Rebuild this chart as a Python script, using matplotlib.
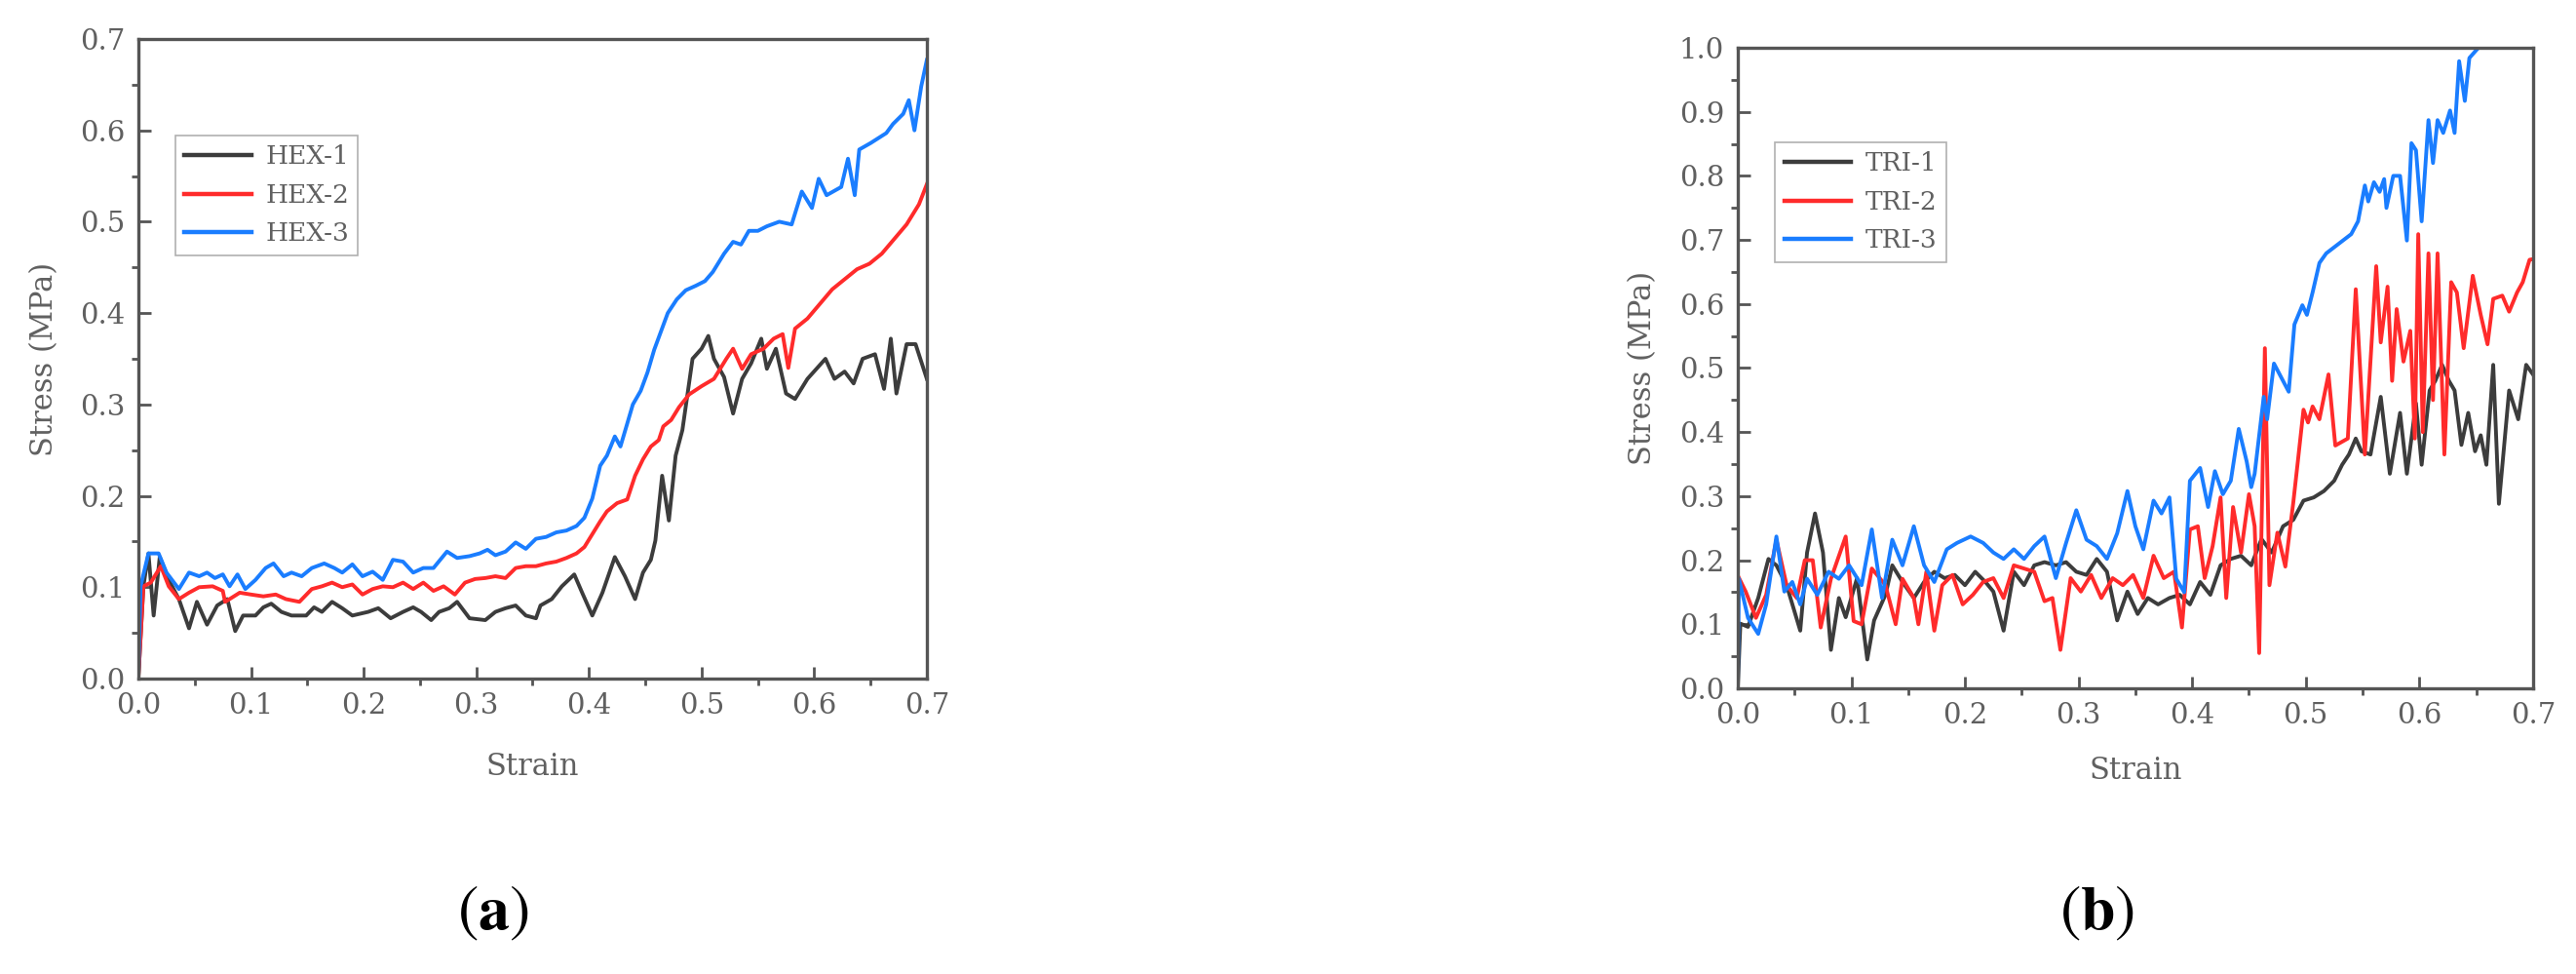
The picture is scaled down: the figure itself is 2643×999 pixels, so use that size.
import matplotlib
matplotlib.use("Agg")
import matplotlib.pyplot as plt
from matplotlib.ticker import MultipleLocator, FormatStrFormatter

plt.rcParams['font.family'] = ['DejaVu Serif']
plt.rcParams['mathtext.fontset'] = 'stix'

# ---- (a) hexagonal samples ----
hex1_strain = [0.0, 0.0045, 0.009, 0.0136, 0.019, 0.027, 0.036, 0.045, 0.052, 0.061, 0.070, 0.079,
               0.086, 0.093, 0.104, 0.111, 0.118, 0.127, 0.136, 0.149, 0.156, 0.163, 0.172, 0.181,
               0.190, 0.204, 0.213, 0.224, 0.235, 0.244, 0.251, 0.260, 0.267, 0.276, 0.283, 0.294,
               0.308, 0.317, 0.326, 0.335, 0.344, 0.353, 0.357, 0.367, 0.376, 0.387, 0.394, 0.403,
               0.412, 0.423, 0.432, 0.441, 0.448, 0.455, 0.459, 0.465, 0.471, 0.477, 0.483, 0.492,
               0.500, 0.506, 0.511, 0.520, 0.528, 0.536, 0.544, 0.553, 0.558, 0.566, 0.575, 0.583,
               0.594, 0.602, 0.610, 0.618, 0.627, 0.635, 0.643, 0.654, 0.662, 0.668, 0.673, 0.682,
               0.690, 0.700]
hex1_stress = [0.0, 0.101, 0.137, 0.069, 0.133, 0.108, 0.087, 0.055, 0.084, 0.059, 0.080, 0.087,
               0.052, 0.069, 0.069, 0.078, 0.082, 0.073, 0.069, 0.069, 0.078, 0.073, 0.084, 0.077,
               0.069, 0.073, 0.077, 0.066, 0.073, 0.078, 0.073, 0.064, 0.073, 0.077, 0.084, 0.066,
               0.064, 0.073, 0.077, 0.080, 0.069, 0.066, 0.080, 0.087, 0.101, 0.114, 0.094, 0.069,
               0.094, 0.133, 0.112, 0.087, 0.116, 0.130, 0.151, 0.222, 0.173, 0.244, 0.272, 0.350,
               0.361, 0.375, 0.350, 0.330, 0.290, 0.328, 0.345, 0.372, 0.339, 0.361, 0.312, 0.306,
               0.328, 0.339, 0.350, 0.328, 0.336, 0.323, 0.350, 0.355, 0.317, 0.372, 0.312, 0.366,
               0.366, 0.328]

hex2_strain = [0.0, 0.0045, 0.011, 0.020, 0.027, 0.036, 0.045, 0.054, 0.066, 0.075, 0.077, 0.081,
               0.090, 0.100, 0.111, 0.122, 0.131, 0.143, 0.154, 0.163, 0.172, 0.181, 0.190, 0.199,
               0.208, 0.217, 0.226, 0.235, 0.244, 0.253, 0.262, 0.271, 0.281, 0.290, 0.299, 0.308,
               0.317, 0.326, 0.335, 0.344, 0.353, 0.362, 0.371, 0.380, 0.389, 0.396, 0.403, 0.410,
               0.416, 0.425, 0.434, 0.441, 0.448, 0.455, 0.462, 0.466, 0.473, 0.480, 0.489, 0.500,
               0.511, 0.522, 0.528, 0.536, 0.544, 0.555, 0.564, 0.572, 0.577, 0.583, 0.594, 0.605,
               0.616, 0.627, 0.638, 0.649, 0.660, 0.671, 0.682, 0.693, 0.700]
hex2_stress = [0.0, 0.101, 0.105, 0.123, 0.101, 0.087, 0.094, 0.100, 0.101, 0.096, 0.084, 0.087,
               0.094, 0.092, 0.090, 0.092, 0.087, 0.084, 0.098, 0.101, 0.105, 0.100, 0.103, 0.092,
               0.098, 0.101, 0.100, 0.105, 0.098, 0.105, 0.096, 0.101, 0.092, 0.105, 0.109, 0.110,
               0.112, 0.110, 0.121, 0.123, 0.123, 0.126, 0.128, 0.132, 0.137, 0.144, 0.158, 0.172,
               0.183, 0.192, 0.196, 0.222, 0.240, 0.254, 0.261, 0.276, 0.283, 0.297, 0.311, 0.320,
               0.328, 0.350, 0.361, 0.339, 0.355, 0.361, 0.372, 0.377, 0.340, 0.383, 0.394, 0.410,
               0.426, 0.437, 0.448, 0.454, 0.465, 0.481, 0.497, 0.519, 0.541]

hex3_strain = [0.0, 0.002, 0.009, 0.018, 0.025, 0.036, 0.045, 0.054, 0.061, 0.068, 0.075, 0.081,
               0.088, 0.095, 0.104, 0.113, 0.120, 0.129, 0.136, 0.145, 0.154, 0.165, 0.174, 0.181,
               0.190, 0.199, 0.208, 0.217, 0.226, 0.235, 0.244, 0.253, 0.262, 0.274, 0.283, 0.294,
               0.303, 0.310, 0.317, 0.326, 0.335, 0.344, 0.353, 0.362, 0.371, 0.380, 0.389, 0.396,
               0.403, 0.410, 0.416, 0.423, 0.428, 0.434, 0.439, 0.446, 0.452, 0.458, 0.464, 0.470,
               0.478, 0.486, 0.495, 0.503, 0.510, 0.515, 0.520, 0.528, 0.535, 0.542, 0.550, 0.558,
               0.569, 0.580, 0.589, 0.598, 0.604, 0.611, 0.624, 0.630, 0.636, 0.640, 0.650, 0.664,
               0.670, 0.679, 0.684, 0.689, 0.695, 0.700]
hex3_stress = [0.0, 0.101, 0.137, 0.137, 0.116, 0.098, 0.116, 0.112, 0.116, 0.110, 0.114, 0.101,
               0.114, 0.098, 0.108, 0.121, 0.126, 0.112, 0.116, 0.112, 0.121, 0.126, 0.121, 0.116,
               0.125, 0.112, 0.117, 0.108, 0.130, 0.128, 0.116, 0.121, 0.121, 0.139, 0.132, 0.134,
               0.137, 0.141, 0.135, 0.139, 0.149, 0.142, 0.153, 0.155, 0.160, 0.162, 0.167, 0.176,
               0.197, 0.233, 0.244, 0.265, 0.254, 0.279, 0.300, 0.315, 0.335, 0.360, 0.380, 0.400,
               0.415, 0.425, 0.430, 0.435, 0.445, 0.455, 0.465, 0.478, 0.475, 0.490, 0.490, 0.495,
               0.500, 0.497, 0.533, 0.515, 0.547, 0.529, 0.538, 0.569, 0.529, 0.579, 0.586, 0.597,
               0.607, 0.618, 0.633, 0.600, 0.648, 0.677]

# ---- (b) triangular samples ----
tri1_strain = [0.0, 0.0023, 0.009, 0.018, 0.027, 0.034, 0.043, 0.055, 0.061, 0.068, 0.075, 0.082,
               0.089, 0.095, 0.105, 0.114, 0.120, 0.130, 0.136, 0.145, 0.155, 0.164, 0.173, 0.182,
               0.191, 0.200, 0.209, 0.218, 0.225, 0.234, 0.243, 0.252, 0.261, 0.270, 0.280, 0.289,
               0.298, 0.307, 0.316, 0.325, 0.334, 0.343, 0.352, 0.361, 0.370, 0.380, 0.389, 0.398,
               0.407, 0.416, 0.425, 0.434, 0.443, 0.452, 0.461, 0.470, 0.480, 0.489, 0.498, 0.507,
               0.516, 0.525, 0.532, 0.538, 0.544, 0.549, 0.557, 0.566, 0.574, 0.583, 0.589, 0.597,
               0.602, 0.609, 0.614, 0.620, 0.626, 0.631, 0.637, 0.643, 0.649, 0.654, 0.659, 0.665,
               0.670, 0.679, 0.687, 0.694, 0.700]
tri1_stress = [0.0, 0.101, 0.096, 0.141, 0.202, 0.192, 0.161, 0.090, 0.212, 0.273, 0.212, 0.060,
               0.141, 0.111, 0.172, 0.045, 0.106, 0.146, 0.192, 0.166, 0.141, 0.166, 0.182, 0.172,
               0.177, 0.161, 0.182, 0.166, 0.151, 0.090, 0.182, 0.161, 0.192, 0.197, 0.192, 0.197,
               0.182, 0.177, 0.202, 0.182, 0.106, 0.151, 0.116, 0.141, 0.131, 0.141, 0.146, 0.131,
               0.166, 0.146, 0.192, 0.202, 0.207, 0.192, 0.233, 0.212, 0.253, 0.263, 0.293, 0.298,
               0.308, 0.324, 0.349, 0.365, 0.390, 0.370, 0.365, 0.455, 0.335, 0.430, 0.335, 0.445,
               0.349, 0.465, 0.480, 0.505, 0.480, 0.465, 0.380, 0.430, 0.370, 0.395, 0.349, 0.505,
               0.288, 0.465, 0.420, 0.505, 0.490]

tri2_strain = [0.0, 0.007, 0.016, 0.025, 0.034, 0.043, 0.052, 0.059, 0.066, 0.073, 0.082, 0.095,
               0.102, 0.109, 0.118, 0.130, 0.139, 0.145, 0.155, 0.159, 0.166, 0.173, 0.180, 0.189,
               0.198, 0.207, 0.216, 0.225, 0.234, 0.243, 0.252, 0.261, 0.270, 0.277, 0.284, 0.293,
               0.302, 0.311, 0.320, 0.330, 0.339, 0.348, 0.357, 0.366, 0.375, 0.384, 0.391, 0.398,
               0.405, 0.411, 0.418, 0.425, 0.430, 0.436, 0.443, 0.450, 0.455, 0.459, 0.464, 0.468,
               0.475, 0.482, 0.489, 0.493, 0.498, 0.502, 0.506, 0.512, 0.520, 0.526, 0.537, 0.544,
               0.552, 0.562, 0.566, 0.572, 0.576, 0.580, 0.586, 0.592, 0.596, 0.599, 0.603, 0.608,
               0.612, 0.616, 0.622, 0.628, 0.633, 0.639, 0.647, 0.654, 0.660, 0.665, 0.673, 0.679,
               0.686, 0.691, 0.697, 0.700]
tri2_stress = [0.176, 0.151, 0.110, 0.146, 0.232, 0.161, 0.141, 0.200, 0.200, 0.095, 0.171, 0.237,
               0.105, 0.100, 0.187, 0.161, 0.100, 0.171, 0.141, 0.100, 0.182, 0.090, 0.161, 0.177,
               0.131, 0.146, 0.166, 0.172, 0.141, 0.192, 0.187, 0.182, 0.136, 0.141, 0.060, 0.172,
               0.151, 0.177, 0.141, 0.172, 0.161, 0.177, 0.141, 0.207, 0.172, 0.182, 0.095, 0.248,
               0.253, 0.172, 0.222, 0.298, 0.141, 0.283, 0.212, 0.303, 0.253, 0.055, 0.531, 0.161,
               0.243, 0.190, 0.290, 0.354, 0.435, 0.415, 0.440, 0.420, 0.490, 0.379, 0.390, 0.623,
               0.365, 0.659, 0.540, 0.627, 0.480, 0.592, 0.510, 0.558, 0.390, 0.709, 0.400, 0.679,
               0.450, 0.679, 0.365, 0.634, 0.618, 0.531, 0.644, 0.583, 0.537, 0.608, 0.613, 0.588,
               0.618, 0.634, 0.669, 0.670]

tri3_strain = [0.0, 0.001, 0.009, 0.018, 0.025, 0.034, 0.041, 0.048, 0.055, 0.061, 0.070, 0.080,
               0.089, 0.098, 0.109, 0.118, 0.127, 0.136, 0.145, 0.155, 0.164, 0.173, 0.184, 0.193,
               0.205, 0.216, 0.225, 0.234, 0.243, 0.252, 0.261, 0.270, 0.280, 0.289, 0.298, 0.307,
               0.316, 0.325, 0.334, 0.343, 0.350, 0.357, 0.366, 0.373, 0.380, 0.386, 0.393, 0.398,
               0.407, 0.414, 0.420, 0.427, 0.434, 0.441, 0.448, 0.452, 0.455, 0.463, 0.466, 0.472,
               0.485, 0.490, 0.497, 0.501, 0.506, 0.512, 0.518, 0.529, 0.540, 0.546, 0.552, 0.555,
               0.560, 0.565, 0.569, 0.571, 0.577, 0.583, 0.589, 0.593, 0.597, 0.602, 0.608, 0.612,
               0.616, 0.621, 0.627, 0.631, 0.635, 0.640, 0.644, 0.652]
tri3_stress = [0.0, 0.171, 0.110, 0.085, 0.131, 0.237, 0.151, 0.166, 0.131, 0.171, 0.146, 0.182,
               0.171, 0.192, 0.161, 0.248, 0.141, 0.232, 0.192, 0.253, 0.192, 0.166, 0.217, 0.227,
               0.237, 0.227, 0.212, 0.202, 0.217, 0.202, 0.222, 0.237, 0.172, 0.227, 0.278, 0.232,
               0.222, 0.202, 0.242, 0.308, 0.253, 0.217, 0.293, 0.273, 0.298, 0.171, 0.150, 0.324,
               0.344, 0.283, 0.339, 0.303, 0.324, 0.405, 0.354, 0.314, 0.335, 0.455, 0.420, 0.507,
               0.463, 0.568, 0.598, 0.583, 0.618, 0.664, 0.679, 0.694, 0.709, 0.729, 0.785, 0.760,
               0.790, 0.775, 0.795, 0.750, 0.800, 0.800, 0.699, 0.851, 0.840, 0.729, 0.887, 0.820,
               0.887, 0.867, 0.902, 0.867, 0.979, 0.917, 0.984, 1.000]

colors = ['#3c3c3c', '#ff2b2b', '#1a7dff']
text_grey = '#606060'
spine_grey = '#555555'

fig = plt.figure(figsize=(26.43, 9.99), dpi=100)
ax_a = fig.add_axes([0.0537, 0.3033, 0.3061, 0.6567])
ax_b = fig.add_axes([0.6746, 0.2933, 0.3087, 0.6577])


def style_axes(ax, ymax):
    ax.set_xlim(0, 0.7)
    ax.set_ylim(0, ymax)
    ax.xaxis.set_major_locator(MultipleLocator(0.1))
    ax.xaxis.set_minor_locator(MultipleLocator(0.05))
    ax.yaxis.set_major_locator(MultipleLocator(0.1))
    ax.yaxis.set_minor_locator(MultipleLocator(0.05))
    ax.xaxis.set_major_formatter(FormatStrFormatter('%.1f'))
    ax.yaxis.set_major_formatter(FormatStrFormatter('%.1f'))
    for sp in ax.spines.values():
        sp.set_color(spine_grey)
        sp.set_linewidth(2.4)
    ax.tick_params(which='major', direction='in', length=9, width=2, color=spine_grey,
                   labelsize=21, labelcolor=text_grey, pad=10, top=False, right=False)
    ax.tick_params(which='minor', direction='out', length=5, width=2, color=spine_grey,
                   top=False, right=False)
    ax.set_xlabel('Strain', fontsize=22, color=text_grey)
    ax.set_ylabel('Stress (MPa)', fontsize=22, color=text_grey)
    ax.yaxis.set_label_coords(-0.10, 0.5)


def add_legend(ax, y_top):
    leg = ax.legend(loc='upper left', bbox_to_anchor=(0.047, y_top), borderaxespad=0,
                    fontsize=19, frameon=True, fancybox=False, framealpha=1,
                    edgecolor='#b0b0b0', handlelength=2.6, handletextpad=0.55,
                    labelspacing=0.55, borderpad=0.35)
    leg.get_frame().set_linewidth(1.2)
    for t in leg.get_texts():
        t.set_color(text_grey)
    for h in leg.get_lines():
        h.set_linewidth(3.2)


# (a)
ax_a.plot(hex1_strain, hex1_stress, color=colors[0], lw=2.8, label='HEX-1')
ax_a.plot(hex2_strain, hex2_stress, color=colors[1], lw=2.8, label='HEX-2')
ax_a.plot(hex3_strain, hex3_stress, color=colors[2], lw=2.8, label='HEX-3')
style_axes(ax_a, 0.7)
ax_a.xaxis.set_label_coords(0.5, -0.115)
add_legend(ax_a, 0.849)

# (b)
ax_b.plot(tri1_strain, tri1_stress, color=colors[0], lw=2.8, label='TRI-1')
ax_b.plot(tri2_strain, tri2_stress, color=colors[1], lw=2.8, label='TRI-2')
ax_b.plot(tri3_strain, tri3_stress, color=colors[2], lw=2.8, label='TRI-3')
style_axes(ax_b, 1.0)
ax_b.xaxis.set_label_coords(0.5, -0.105)
add_legend(ax_b, 0.852)

fig.text(506 / 2643, 1 - 937 / 999, r'($\mathbf{a}$)', fontsize=46, ha='center', va='center',
         family='STIXGeneral')
fig.text(2152 / 2643, 1 - 937 / 999, r'($\mathbf{b}$)', fontsize=46, ha='center', va='center',
         family='STIXGeneral')

fig.savefig('out.png', dpi=100)
